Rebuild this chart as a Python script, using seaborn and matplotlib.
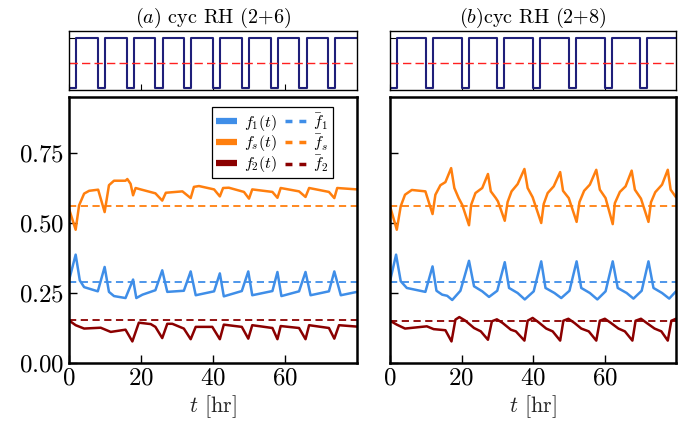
import matplotlib
matplotlib.use("Agg")
import matplotlib.pyplot as plt
import numpy as np
import pandas as pd
import seaborn as sns
from matplotlib.lines import Line2D

# ---------------- data ----------------
# panel (a): cyc RH (2+6)
t_fs_a = [0, 1.85, 2.8, 4.2, 5.6, 8.1, 9.9, 11.1, 12.5, 15.7, 16.2, 17.1, 17.8, 18.5, 19.9,
          24.0, 25.9, 26.9, 31.5, 33.8, 34.7, 36.1, 40.3, 41.9, 42.8, 44.4, 48.6, 50.0, 50.9,
          56.5, 57.9, 58.8, 63.9, 65.7, 66.7, 72.2, 73.7, 74.5, 80]
fs_a = [0.551, 0.476, 0.563, 0.605, 0.615, 0.619, 0.539, 0.635, 0.651, 0.651, 0.657, 0.640,
        0.599, 0.625, 0.620, 0.606, 0.580, 0.608, 0.613, 0.589, 0.629, 0.632, 0.620, 0.595,
        0.625, 0.626, 0.611, 0.587, 0.620, 0.611, 0.590, 0.625, 0.613, 0.593, 0.625, 0.611,
        0.589, 0.625, 0.620]
t_f1_a = [0, 1.85, 3.0, 4.2, 8.0, 9.9, 11.1, 12.5, 15.7, 17.8, 18.7, 20.4, 24.0, 25.9, 27.3,
          31.9, 33.8, 35.2, 40.3, 41.9, 43.0, 48.0, 49.8, 50.9, 56.5, 57.9, 59.0, 63.9, 65.7,
          67.1, 72.2, 73.7, 75.5, 80]
f1_a = [0.295, 0.387, 0.295, 0.271, 0.256, 0.343, 0.254, 0.239, 0.232, 0.298, 0.232, 0.244,
        0.260, 0.331, 0.254, 0.258, 0.327, 0.242, 0.256, 0.320, 0.238, 0.257, 0.327, 0.242,
        0.257, 0.325, 0.239, 0.256, 0.325, 0.242, 0.256, 0.327, 0.242, 0.254]
t_f2_a = [0, 1.85, 4.2, 8.8, 11.6, 15.7, 17.6, 19.4, 22.7, 24.0, 25.9, 27.3, 28.7, 31.9, 33.8,
          35.2, 39.8, 41.9, 43.0, 48.0, 49.8, 50.9, 56.5, 57.9, 58.8, 63.9, 65.7, 66.7, 72.2,
          73.7, 75.0, 80]
f2_a = [0.152, 0.135, 0.123, 0.126, 0.111, 0.119, 0.077, 0.144, 0.139, 0.129, 0.089, 0.140,
        0.140, 0.123, 0.085, 0.129, 0.129, 0.085, 0.137, 0.129, 0.087, 0.135, 0.125, 0.085,
        0.132, 0.125, 0.085, 0.135, 0.125, 0.087, 0.135, 0.130]
means_a = {"f1": 0.290, "fs": 0.560, "f2": 0.152}
rh_t_a = [0, 2, 8, 10, 16, 18, 24, 26, 32, 34, 40, 42, 48, 50, 56, 58, 64, 66, 72, 74, 80]
rh_a = [0, 1, 0, 1, 0, 1, 0, 1, 0, 1, 0, 1, 0, 1, 0, 1, 0, 1, 0, 1, 1]

# panel (b): cyc RH (2+8)
t_fs_b = [0, 1.9, 3.0, 4.2, 6.1, 9.9, 11.9, 12.7, 14.1, 15.5, 17.1, 18.0, 19.2, 20.2, 22.1,
          22.7, 23.9, 25.8, 27.4, 28.2, 29.6, 30.2, 32.1, 32.9, 34.0, 35.7, 37.6, 38.5, 39.9,
          42.3, 43.0, 44.1, 45.8, 47.6, 48.4, 50.0, 52.2, 53.0, 54.3, 55.9, 57.7, 58.7, 60.3,
          62.3, 62.9, 64.3, 65.9, 67.6, 68.5, 70.2, 72.3, 73.0, 74.2, 76.1, 77.7, 78.5, 80.0]
fs_b = [0.560, 0.476, 0.560, 0.601, 0.618, 0.613, 0.532, 0.601, 0.635, 0.646, 0.696, 0.625,
        0.589, 0.565, 0.492, 0.565, 0.607, 0.625, 0.675, 0.613, 0.589, 0.577, 0.508, 0.575,
        0.613, 0.639, 0.693, 0.625, 0.592, 0.500, 0.568, 0.607, 0.631, 0.682, 0.615, 0.589,
        0.504, 0.575, 0.615, 0.637, 0.690, 0.619, 0.589, 0.496, 0.571, 0.611, 0.631, 0.687,
        0.619, 0.587, 0.504, 0.574, 0.610, 0.637, 0.690, 0.619, 0.592]
t_f1_b = [0, 1.7, 3.0, 4.7, 9.9, 11.9, 13.0, 14.6, 16.0, 17.4, 19.7, 22.1, 23.5, 25.8, 27.7,
          30.0, 32.1, 33.3, 35.7, 37.7, 40.2, 42.3, 43.5, 46.0, 47.9, 50.2, 52.2, 53.5, 55.9,
          58.0, 60.3, 62.3, 63.7, 66.2, 68.1, 70.4, 72.3, 73.7, 76.1, 78.1, 80.0]
f1_b = [0.292, 0.387, 0.292, 0.268, 0.254, 0.345, 0.258, 0.244, 0.240, 0.225, 0.258, 0.365,
        0.274, 0.256, 0.236, 0.258, 0.360, 0.268, 0.250, 0.227, 0.256, 0.363, 0.268, 0.250,
        0.232, 0.258, 0.363, 0.268, 0.250, 0.227, 0.256, 0.363, 0.268, 0.250, 0.230, 0.258,
        0.363, 0.268, 0.250, 0.230, 0.256]
t_f2_b = [0, 1.9, 4.2, 10.3, 12.2, 15.5, 17.2, 18.3, 19.4, 21.1, 23.5, 25.4, 27.4, 28.5, 29.9,
          31.5, 33.8, 35.2, 37.6, 38.5, 39.9, 41.5, 43.7, 45.5, 47.6, 48.5, 49.9, 51.6, 53.5,
          55.6, 57.7, 58.7, 60.1, 61.8, 63.9, 65.7, 67.8, 68.7, 70.2, 71.8, 74.0, 75.9, 77.7,
          78.7, 80.0]
f2_b = [0.151, 0.137, 0.123, 0.131, 0.121, 0.117, 0.077, 0.155, 0.164, 0.151, 0.125, 0.113,
        0.083, 0.149, 0.156, 0.143, 0.119, 0.113, 0.080, 0.151, 0.161, 0.146, 0.123, 0.113,
        0.080, 0.151, 0.158, 0.143, 0.123, 0.113, 0.080, 0.151, 0.158, 0.143, 0.123, 0.113,
        0.080, 0.151, 0.158, 0.143, 0.123, 0.113, 0.080, 0.151, 0.158]
means_b = {"f1": 0.290, "fs": 0.560, "f2": 0.151}
rh_t_b = [0, 2, 10, 12, 20, 22, 30, 32, 40, 42, 50, 52, 60, 62, 70, 72, 80]
rh_b = [0, 1, 0, 1, 0, 1, 0, 1, 0, 1, 0, 1, 0, 1, 0, 1, 1]
rh_mid = 0.5

titles = [r"$(a)$ cyc RH (2+6)", r"$(b)$cyc RH (2+8)"]
xticks = [0, 20, 40, 60]
yticks = [0.0, 0.25, 0.5, 0.75]
xlabel = r"$t$ [hr]"
leg_labels = [r"$f_1(t)$", r"$f_s(t)$", r"$f_2(t)$", r"$\bar{f}_1$", r"$\bar{f}_s$", r"$\bar{f}_2$"]

# ---------------- style ----------------
C1 = "#3f8ee8"
CS = "#ff7f0e"
C2 = "#8b0000"
CRH = "#1f1f7a"

sns.set_style("ticks")
plt.rcParams.update({
    "font.family": "serif",
    "font.serif": ["cmr10"],
    "mathtext.fontset": "cm",
    "axes.formatter.use_mathtext": True,
    "xtick.direction": "in",
    "ytick.direction": "in",
    "axes.unicode_minus": False,
    "axes.edgecolor": "black",
    "xtick.color": "black",
    "ytick.color": "black",
    "text.color": "black",
})

fig = plt.figure(figsize=(6.86, 4.26), dpi=100)
L = [69 / 686, 390 / 686]
W = [288 / 686, 286 / 686]
main_b, main_h = 1 - 363 / 426, (363 - 97) / 426
top_b, top_h = 1 - 90 / 426, (90 - 31) / 426

panels = [
    (t_f1_a, f1_a, t_fs_a, fs_a, t_f2_a, f2_a, means_a, rh_t_a, rh_a),
    (t_f1_b, f1_b, t_fs_b, fs_b, t_f2_b, f2_b, means_b, rh_t_b, rh_b),
]

for i, (tf1, f1, tfs, fs, tf2, f2, mns, rht, rh) in enumerate(panels):
    axt = fig.add_axes([L[i], top_b, W[i], top_h])
    ax = fig.add_axes([L[i], main_b, W[i], main_h])

    # top RH signal
    sns.lineplot(x=rht, y=rh, ax=axt, color=CRH, lw=1.5, drawstyle="steps-post",
                 estimator=None, sort=False)
    axt.axhline(rh_mid, color="#ff2020", lw=1.0, ls=(0, (6, 3)))
    axt.set_xlim(0, 80)
    axt.set_ylim(-0.05, 1.15)
    axt.set_xticks(xticks)
    axt.set_yticks([rh_mid, 1.0])
    axt.tick_params(labelbottom=False, labelleft=False, length=4, width=0.8)
    axt.set_xlabel("")
    axt.set_ylabel("")
    for s in axt.spines.values():
        s.set_linewidth(1.0)
    axt.set_title(titles[i], fontsize=14.5, pad=6)

    # main curves
    sns.lineplot(x=tf1, y=f1, ax=ax, color=C1, lw=1.8, estimator=None, sort=False)
    sns.lineplot(x=tfs, y=fs, ax=ax, color=CS, lw=1.8, estimator=None, sort=False)
    sns.lineplot(x=tf2, y=f2, ax=ax, color=C2, lw=1.8, estimator=None, sort=False)
    ax.axhline(mns["f1"], color=C1, lw=1.3, ls=(0, (4, 2.5)))
    ax.axhline(mns["fs"], color=CS, lw=1.3, ls=(0, (4, 2.5)))
    ax.axhline(mns["f2"], color=C2, lw=1.3, ls=(0, (4, 2.5)))
    ax.set_xlim(0, 80)
    ax.set_ylim(0, 0.95)
    ax.set_xticks(xticks)
    ax.set_yticks(yticks)
    ax.tick_params(length=6, width=1.0, labelsize=18)
    if i == 1:
        ax.tick_params(labelleft=False)
    ax.set_ylabel("")
    ax.set_xlabel(xlabel, fontsize=16, labelpad=2)
    for s in ax.spines.values():
        s.set_linewidth(1.8)

    if i == 0:
        handles = [
            Line2D([], [], color=C1, lw=4.5, solid_capstyle="butt"),
            Line2D([], [], color=CS, lw=4.5, solid_capstyle="butt"),
            Line2D([], [], color=C2, lw=4.5, solid_capstyle="butt"),
            Line2D([], [], color=C1, lw=2.5, ls=(0, (2, 2))),
            Line2D([], [], color=CS, lw=2.5, ls=(0, (2, 2))),
            Line2D([], [], color=C2, lw=2.5, ls=(0, (2, 2))),
        ]
        leg = ax.legend(handles, leg_labels, ncol=2, loc="upper right",
                        bbox_to_anchor=(0.915, 0.962), borderaxespad=0, fontsize=11.5,
                        frameon=True, fancybox=False, edgecolor="black", framealpha=1,
                        handlelength=1.3, handletextpad=0.45, columnspacing=0.5,
                        labelspacing=0.05, borderpad=0.25)
        leg.get_frame().set_linewidth(0.9)

fig.savefig("out.png", dpi=100)
